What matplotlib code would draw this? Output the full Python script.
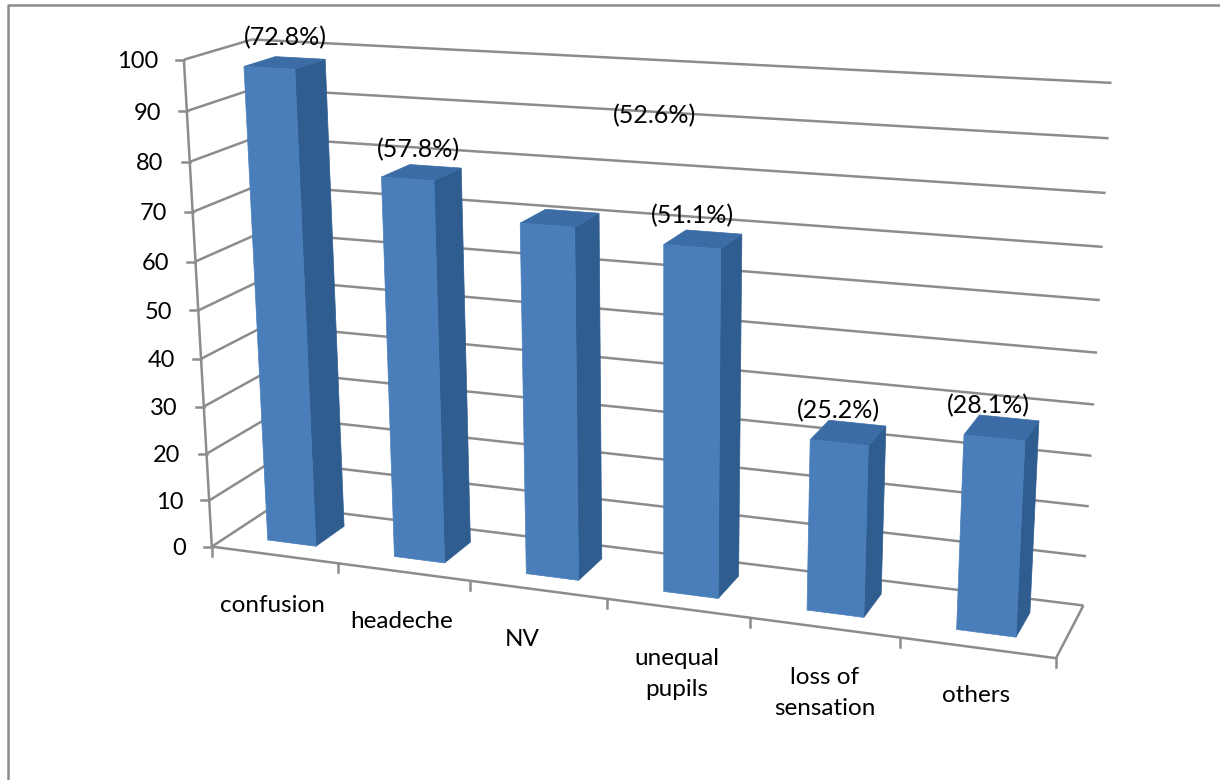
import numpy as np
import matplotlib
matplotlib.use('Agg')
import matplotlib.pyplot as plt
from matplotlib.patches import Polygon

categories = ['confusion', 'headeche', 'NV', 'unequal\npupils', 'loss of\nsensation', 'others']
counts = [98, 78, 71, 69, 34, 38]
percent_labels = ['(72.8%)', '(57.8%)', '(52.6%)', '(51.1%)', '(25.2%)', '(28.1%)']
y_ticks = list(range(0, 101, 10))

# where the text sits on the canvas
category_xy = [(272, 605), (402, 622), (522, 639), (677, 674), (825, 693), (976, 695)]
percent_xy = [(285, 38), (418, 150), (654, 116), (692, 216), (838, 411), (988, 406)]

GRID = '#8c8c8c'
FRONT = '#4a7ebb'
SIDE = '#305d90'
TOP = '#3b6ca6'

plt.rcParams['font.family'] = ['Lato', 'DejaVu Sans']

fig = plt.figure(figsize=(12.2, 7.8), dpi=100)
ax = fig.add_axes([0, 0, 1, 1])
ax.set_xlim(0, 1220)
ax.set_ylim(780, 0)
ax.axis('off')

# camera matrix for the 3d box: x = category slot, y = value, z = depth
box_world = [(0, 0, 0), (0, 100, 0), (0, 0, 1), (0, 100, 1), (6, 0, 1), (6, 100, 1), (6, 0, 0), (3, 0, 0)]
box_canvas = [(208, 547), (191, 56), (280, 504), (245, 42), (1085, 603), (1112, 84), (1055, 658), (605, 602)]
rows = []
for (X, Y, Z), (u, v) in zip(box_world, box_canvas):
    rows.append([X, Y, Z, 1, 0, 0, 0, 0, -u * X, -u * Y, -u * Z, -u])
    rows.append([0, 0, 0, 0, X, Y, Z, 1, -v * X, -v * Y, -v * Z, -v])
cam = np.linalg.svd(np.array(rows, dtype=float))[2][-1].reshape(3, 4)


def project(x, y, z):
    p = cam @ np.array([x, y, z, 1.0])
    return p[0] / p[2], p[1] / p[2]


def line3d(a, b):
    pa, pb = project(*a), project(*b)
    ax.plot([pa[0], pb[0]], [pa[1], pb[1]], color=GRID, lw=1.8, solid_capstyle='butt', zorder=1)


# gridlines on the side wall and back wall
for v in y_ticks:
    line3d((0, v, 0), (0, v, 1))
    line3d((0, v, 1), (6, v, 1))
    px, py = project(0, v, 0)
    ax.plot([px - 8, px], [py, py], color=GRID, lw=1.8, zorder=1)
    ax.text(px - 26, py + 2, str(v), ha='right', va='center', fontsize=17, color='black')

# value axis, floor outline and category ticks
line3d((0, 0, 0), (0, 100, 0))
line3d((0, 0, 0), (6, 0, 0))
line3d((6, 0, 0), (6, 0, 1))
for i in range(7):
    px, py = project(i, 0, 0)
    ax.plot([px, px], [py, py + 9], color=GRID, lw=1.8, zorder=1)

# bars
for i, h in enumerate(counts):
    x0, x1 = i + 0.31, i + 0.695
    z0, z1 = 0.27, 0.74
    front = [project(x0, 0, z0), project(x1, 0, z0), project(x1, h, z0), project(x0, h, z0)]
    side = [project(x1, 0, z0), project(x1, 0, z1), project(x1, h, z1), project(x1, h, z0)]
    top = [project(x0, h, z0), project(x1, h, z0), project(x1, h, z1), project(x0, h, z1)]
    ax.add_patch(Polygon(side, closed=True, fc=SIDE, ec=SIDE, lw=0.5, zorder=2))
    ax.add_patch(Polygon(top, closed=True, fc=TOP, ec=TOP, lw=0.5, zorder=2))
    ax.add_patch(Polygon(front, closed=True, fc=FRONT, ec=FRONT, lw=0.5, zorder=3))

for name, (tx, ty) in zip(categories, category_xy):
    ax.text(tx, ty, name, ha='center', va='center', fontsize=17.5, color='black', linespacing=1.6)
for lab, (tx, ty) in zip(percent_labels, percent_xy):
    ax.text(tx, ty, lab, ha='center', va='center', fontsize=18, color='black', zorder=5)

# chart area border
ax.plot([8, 8, 1220], [780, 5, 5], color='#8c8c8c', lw=1.8, zorder=1)

fig.savefig('out.png', dpi=100)
